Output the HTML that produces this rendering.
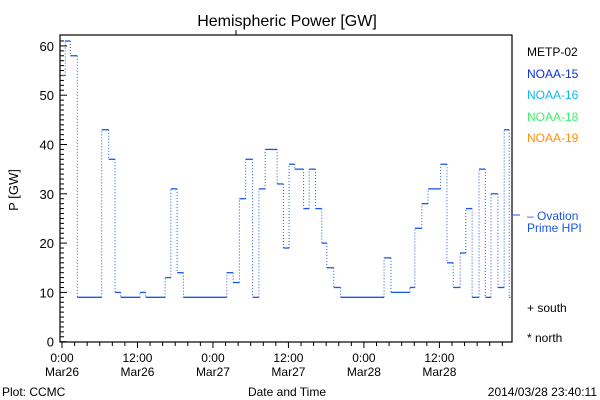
<!DOCTYPE html>
<html><head><meta charset="utf-8"><style>
html,body{margin:0;padding:0;background:#fff;}
svg{display:block;font-family:"Liberation Sans",sans-serif;}
</style></head><body>
<svg id="chart" width="600" height="400" viewBox="0 0 600 400" xmlns="http://www.w3.org/2000/svg">
<rect width="600" height="400" fill="#fff"/>
<text x="287" y="26" font-size="16" text-anchor="middle">Hemispheric Power [GW]</text>
<rect x="60" y="35" width="452" height="307" fill="none" stroke="#000" stroke-width="1.2"/>
<line x1="236" y1="30" x2="236" y2="35" stroke="#000"/>
<g id="yaxis"></g>
<g id="xaxis"></g>
<g id="series"></g>
<text transform="translate(18,190) rotate(-90)" font-size="13" text-anchor="middle">P [GW]</text>
<text x="287" y="396" font-size="12" text-anchor="middle">Date and Time</text>
<text x="2" y="396" font-size="12">Plot: CCMC</text>
<text x="597" y="396" font-size="12" text-anchor="end">2014/03/28 23:40:11</text>
<g font-size="12">
<text x="527" y="56" fill="#000">METP-02</text>
<text x="527" y="78" fill="#1030e0">NOAA-15</text>
<text x="527" y="99" fill="#10b8f0">NOAA-16</text>
<text x="527" y="121" fill="#40f070">NOAA-18</text>
<text x="527" y="142" fill="#ff9010">NOAA-19</text>
<text x="527" y="220" fill="#1a56e6">– Ovation</text>
<line x1="512" y1="215" x2="520" y2="215" stroke="#1a56e6"/>
<text x="527" y="232" fill="#1a56e6">Prime HPI</text>
<text x="527" y="312" fill="#000">+ south</text>
<text x="527" y="342" fill="#000">* north</text>
</g>
</svg>
<script>
const stepStarts=[-0.27,0.52,1.32,2.43,6.31,7.42,8.43,9.33,12.4,13.3,16.4,17.3,18.3,19.3,26.2,27.2,28.2,29.2,30.3,31.3,32.3,34.2,35.2,36.1,37.0,38.4,39.3,40.3,41.3,42.1,43.2,44.3,51.2,52.3,55.3,56.1,57.2,58.2,60.2,61.2,62.2,63.3,64.2,65.2,66.3,67.3,68.2,69.3,70.3,71.1];
const stepEnd=71.3;
const powerValues=[54,61,58,9,43,37,10,9,10,9,13,31,14,9,14,12,29,37,9,31,39,32,19,36,35,27,35,27,20,15,11,9,17,10,11,23,28,31,36,16,11,18,27,9,35,9,30,11,43,9];
const yTicks=[0,10,20,30,40,50,60];
const xTickHours=[0,12,24,36,48,60];
const xTickTimes=["0:00","12:00","0:00","12:00","0:00","12:00"];
const xTickDates=["Mar26","Mar26","Mar27","Mar27","Mar28","Mar28"];
const NS="http://www.w3.org/2000/svg";
const X=h=>62+h*6.29;
const Y=v=>341.7-v*4.93;
function mk(tag,attrs,parent){const e=document.createElementNS(NS,tag);for(const k in attrs)e.setAttribute(k,attrs[k]);parent.appendChild(e);return e;}
const ya=document.getElementById('yaxis');
for(let v=0;v<=61;v++){const l=mk('line',{x1:60,x2:v%10===0?67:64,y1:Y(v),y2:Y(v),stroke:'#000'},ya);}
yTicks.forEach(v=>{const t=mk('text',{x:54,y:Y(v)+5,'font-size':13,'text-anchor':'end'},ya);t.textContent=v;

});
const xa=document.getElementById('xaxis');
for(let h=0;h<=71;h+=2){mk('line',{x1:X(h),x2:X(h),y1:342,y2:h%12===0?348:346,stroke:'#000'},xa);}
xTickHours.forEach((h,i)=>{const t=mk('text',{x:X(h),y:362,'font-size':12,'text-anchor':'middle'},xa);t.textContent=xTickTimes[i];


const d=mk('text',{x:X(h),y:376,'font-size':12,'text-anchor':'middle'},xa);d.textContent=xTickDates[i];

});
const s=document.getElementById('series');
for(let i=0;i<powerValues.length;i++){
const x1=Math.max(X(stepStarts[i]),61),x2=X(i+1<stepStarts.length?stepStarts[i+1]:stepEnd);
const h=mk('line',{x1:x1,x2:x2,y1:Y(powerValues[i]),y2:Y(powerValues[i]),stroke:'#1a56e6','stroke-width':1.3},s);


if(i+1<powerValues.length){const v=mk('line',{x1:x2,x2:x2,y1:Y(powerValues[i]),y2:Y(powerValues[i+1]),stroke:'#1a56e6','stroke-width':1,'stroke-dasharray':'1,2'},s);

}
}
</script>
</body></html>
